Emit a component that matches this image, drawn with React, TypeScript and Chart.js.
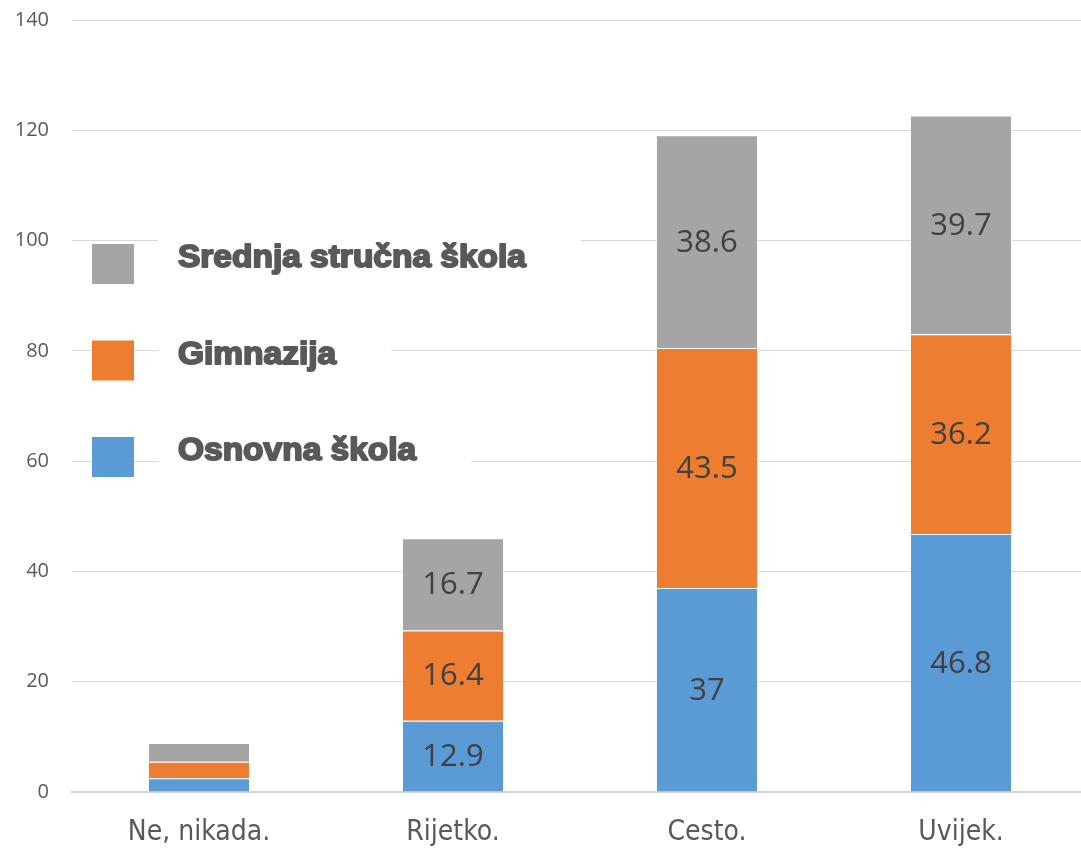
import React, { useEffect, useRef } from "react";
import { Chart, registerables } from "chart.js";

Chart.register(...registerables);

const categories = ["Ne, nikada.", "Rijetko.", "Cesto.", "Uvijek."];
const osnovna = [2.5, 12.9, 37, 46.8];
const gimnazija = [3.0, 16.4, 43.5, 36.2];
const srednja = [3.4, 16.7, 38.6, 39.7];
const seriesNames = ["Osnovna škola", "Gimnazija", "Srednja stručna škola"];
const seriesColors = ["#5b9bd5", "#ed7d31", "#a5a5a5"];
const yTicks = [0, 20, 40, 60, 80, 100, 120, 140];

const labelPlugin = {
  id: "segLabels",
  afterDatasetsDraw(chart: any) {
    const ctx = chart.ctx;
    ctx.save();
    ctx.font = "31px 'Open Sans'";
    ctx.fillStyle = "#404040";
    ctx.textAlign = "center";
    ctx.textBaseline = "middle";
    chart.data.datasets.forEach((ds: any, di: number) => {
      const meta = chart.getDatasetMeta(di);
      meta.data.forEach((el: any, i: number) => {
        const v = ds.data[i];
        if (v < 5) return;
        ctx.fillText(String(v), el.x, (el.y + el.base) / 2 + 1);
      });
    });
    ctx.restore();
  },
};

const legendPlugin = {
  id: "overlayLegend",
  afterDraw(chart: any) {
    const ctx = chart.ctx;
    const ds = chart.data.datasets.slice().reverse();
    const stretch = 1.08;
    ctx.save();
    ctx.font = "bold 31px 'Liberation Sans'";
    ds.forEach((d: any, i: number) => {
      const top = 244 + i * 96.5;
      const w = ctx.measureText(d.label).width * stretch;
      ctx.fillStyle = "#ffffff";
      ctx.fillRect(158, top - 14, w + 20 + 55, 56);
      ctx.fillStyle = d.backgroundColor;
      ctx.fillRect(92, top, 42, 40);
      ctx.save();
      ctx.translate(178, top + 23);
      ctx.scale(stretch, 1);
      ctx.fillStyle = "#595959";
      ctx.strokeStyle = "#595959";
      ctx.lineWidth = 1.9;
      ctx.lineJoin = "round";
      ctx.textBaseline = "alphabetic";
      ctx.textAlign = "left";
      ctx.fillText(d.label, 0, 0);
      ctx.strokeText(d.label, 0, 0);
      ctx.restore();
    });
    ctx.restore();
  },
};

export default function App() {
  const ref = useRef<HTMLCanvasElement>(null);
  useEffect(() => {
    if (!ref.current) return;
    const values = [osnovna, gimnazija, srednja];
    const chart = new Chart(ref.current, {
      type: "bar",
      data: {
        labels: categories,
        datasets: values.map((v, i) => ({
          label: seriesNames[i],
          data: v,
          backgroundColor: seriesColors[i],
          borderColor: "rgba(255,255,255,0.7)",
          borderWidth: 1,
          barPercentage: 0.402,
          categoryPercentage: 1,
        })),
      },
      options: {
        responsive: false,
        animation: false,
        devicePixelRatio: 1,
        layout: { padding: { left: 0, right: 12, top: 20, bottom: 0 } },
        plugins: { legend: { display: false }, tooltip: { enabled: false } },
        scales: {
          x: {
            stacked: true,
            grid: { display: false, drawTicks: false },
            border: { display: true, color: "#d4d4d4", width: 2 },
            ticks: {
              color: "#595959",
              font: { family: "'Liberation Sans Narrow', 'DejaVu Sans Condensed', sans-serif", size: 28 },
              padding: 24,
            },
            afterFit: (s: any) => {
              s.height = 56;
            },
          },
          y: {
            stacked: true,
            min: 0,
            max: 140,
            afterBuildTicks: (s: any) => {
              s.ticks = yTicks.map((v) => ({ value: v }));
            },
            grid: { color: "#d9d9d9", lineWidth: 1, drawTicks: false },
            border: { display: false },
            ticks: {
              color: "#595959",
              font: { family: "'Open Sans'", size: 20 },
              padding: 23,
            },
            afterFit: (s: any) => {
              s.width = 72;
              s.paddingTop = 0;
              s.paddingBottom = 0;
            },
          },
        },
      },
      plugins: [labelPlugin, legendPlugin],
    });
    return () => chart.destroy();
  }, []);
  return (
    <div style={{ position: "absolute", left: 0, top: 0, width: 1081, height: 848, overflow: "hidden", background: "#fff" }}>
      <canvas ref={ref} width={1100} height={848} style={{ display: "block" }} />
    </div>
  );
}
